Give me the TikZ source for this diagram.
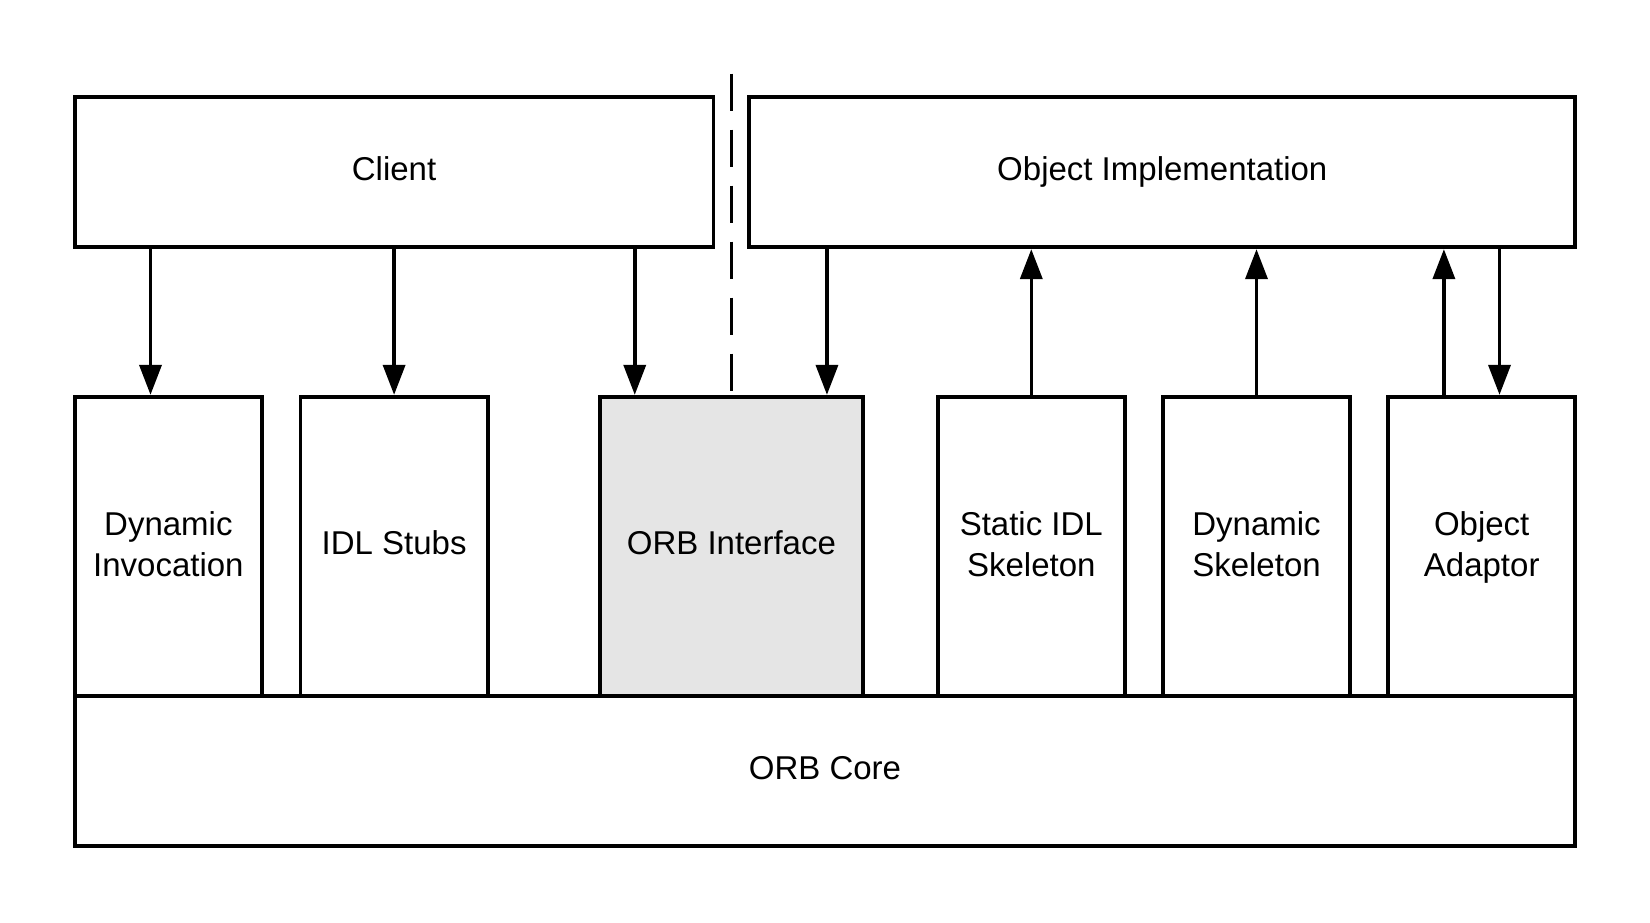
\documentclass[tikz,border=0pt]{standalone}
\usepackage{fontspec}
\setmainfont{Liberation Sans}
\usepackage{tikz}
\usetikzlibrary{calc}
\usetikzlibrary{arrows.meta}
\newcommand{\orbfont}{\fontsize{33}{41}\selectfont}

\begin{document}
\begin{tikzpicture}[x=1pt,y=-1pt] %% corba layout
	\tikzstyle{block}=[rectangle,draw=black,line width=3.8pt,inner sep=0pt,align=center,font=\orbfont,
		execute at begin node=\strut,execute at end node=\strut];
	\tikzstyle{part}=[block,minimum width=187.3pt,minimum height=298.9pt];
	\tikzstyle{twoline}=[part,text depth=4pt];
	\tikzstyle{arr}=[line width=3.6pt,-{Triangle[length=30pt,width=22pt]}];
	\useasboundingbox (0,0) rectangle (1650,923);
	\node[block,minimum width=638.8pt,minimum height=150.5pt] (client) at (394.1,172) {Client};
	\node[block,minimum width=826.1pt,minimum height=150.5pt] (impl) at (1162.3,172) {Object Implementation};
	\node[block,minimum width=1500.6pt,minimum height=150.5pt] (core) at (825,770.9) {ORB Core};
	\node[twoline] (dyn)  at (168.4,546.2)  {Dynamic\\Invocation};
	\node[part] (stub) at (394.1,546.2)  {IDL Stubs};
	\node[part,fill=black!10,minimum width=263.1pt] (orbi) at (731.4,546.2) {ORB Interface};
	\node[twoline] (skel) at (1031.3,546.2) {Static IDL\\Skeleton};
	\node[twoline] (dsk)  at (1256.5,546.2) {Dynamic\\Skeleton};
	\node[twoline] (oa)   at (1481.7,546.2) {Object\\Adaptor};
	\coordinate (cut) at (731.4,73.7);
	\draw[line width=3.6pt,dash pattern=on 37pt off 19pt] (cut) -- (orbi.north);
	% client side
	\draw[arr] ([xshift=-17.9pt]dyn.north |- client.south) -- ([xshift=-17.9pt]dyn.north);
	\draw[arr] (client.south) -- (stub.north);
	\draw[arr] ([xshift=36.8pt]orbi.north west |- client.south) -- ([xshift=36.8pt]orbi.north west);
	% server side
	\draw[arr] ([xshift=-37.9pt]orbi.north east |- impl.south) -- ([xshift=-37.9pt]orbi.north east);
	\draw[arr] (skel.north) -- (skel.north |- impl.south);
	\draw[arr] (dsk.north) -- (dsk.north |- impl.south);
	\draw[arr] ([xshift=-37.8pt]oa.north) -- ([xshift=-37.8pt]oa.north |- impl.south);
	\draw[arr] ([xshift=17.8pt]oa.north |- impl.south) -- ([xshift=17.8pt]oa.north);
\end{tikzpicture}
\end{document}
